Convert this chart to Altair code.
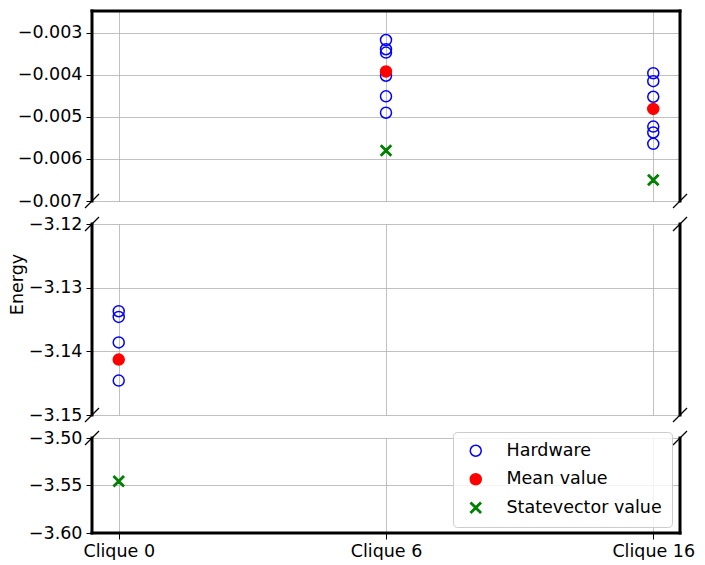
import altair as alt
import pandas as pd

# ---- data ----
cliques = ["Clique 0", "Clique 6", "Clique 16"]
series_names = ["Hardware", "Mean value", "Statevector value"]

hardware_clique0 = [-3.1337, -3.1346, -3.1386, -3.1446]
hardware_clique6 = [-0.00317, -0.00339, -0.00347, -0.00402, -0.00451, -0.00490]
hardware_clique16 = [-0.00396, -0.00415, -0.00452, -0.00523, -0.00537, -0.00564]
mean_values = [-3.1413, -0.00392, -0.00481]
statevector_values = [-3.5455, -0.00580, -0.00650]

top_ticks = [-0.007, -0.006, -0.005, -0.004, -0.003]
mid_ticks = [-3.15, -3.14, -3.13, -3.12]
bot_ticks = [-3.60, -3.55, -3.50]

top_domain = [-0.007, -0.00248]
mid_domain = [-3.15, -3.12]
bot_domain = [-3.60, -3.50]

# ---- build the table ----
rows = []
for c, vals in zip(cliques, [hardware_clique0, hardware_clique6, hardware_clique16]):
    for v in vals:
        rows.append({"clique": c, "energy": v, "series": "Hardware"})
for c, v in zip(cliques, mean_values):
    rows.append({"clique": c, "energy": v, "series": "Mean value"})
for c, v in zip(cliques, statevector_values):
    rows.append({"clique": c, "energy": v, "series": "Statevector value"})
df = pd.DataFrame(rows)

W = 588
FONT = "DejaVu Sans"
FS = 17.5
# filled "x" marker outline (unit square coordinates)
a = 0.17
m = 0.95
XPATH = (f"M{-m + a},{-m}L0,{-a}L{m - a},{-m}L{m},{-m + a}L{a},0L{m},{m - a}"
         f"L{m - a},{m}L0,{a}L{-m + a},{m}L{-m},{m - a}L{-a},0L{-m},{-m + a}Z")
one = pd.DataFrame({"k": [0]})


def panel(domain, ticks, fmt, height, top_break, bottom_break, bottom_axis, legend, title):
    sub = df[(df["energy"] >= domain[0]) & (df["energy"] <= domain[1])]
    if bottom_axis:
        xaxis = alt.Axis(title=None, labels=True, ticks=True, grid=True, domain=False,
                         labelAngle=0, labelPadding=3, tickSize=6)
    else:
        xaxis = alt.Axis(title=None, labels=False, ticks=False, grid=True, domain=False)
    yaxis_kwargs = dict(values=ticks, format=fmt, grid=True, domain=False,
                        labelPadding=4, tickSize=6, labelOverlap=False)
    if title:
        yaxis = alt.Axis(title=title, titlePadding=2, titleY=60, **yaxis_kwargs)
    else:
        yaxis = alt.Axis(title=None, **yaxis_kwargs)

    if legend:
        leg = alt.Legend(title=None, orient="none", legendX=361, legendY=-6,
                         padding=10, symbolOffset=4, labelOffset=22, rowPadding=9.5,
                         labelFontSize=FS, labelFont=FONT, labelColor="black",
                         symbolSize=121, symbolStrokeWidth=1.5,
                         fillColor="rgba(255,255,255,0.8)", strokeColor="#cccccc",
                         cornerRadius=4)
    else:
        leg = None

    pts = alt.Chart(sub).mark_point(size=121, strokeWidth=1.5, opacity=1, filled=False).encode(
        x=alt.X("clique:N", sort=cliques,
                scale=alt.Scale(type="point", domain=cliques, padding=0.1), axis=xaxis),
        y=alt.Y("energy:Q", scale=alt.Scale(domain=domain, nice=False, zero=False), axis=yaxis),
        shape=alt.Shape("series:N", scale=alt.Scale(domain=series_names,
                                                    range=["circle", "circle", XPATH]), legend=leg),
        fill=alt.Fill("series:N", scale=alt.Scale(domain=series_names,
                                                  range=["transparent", "red", "green"]), legend=leg),
        stroke=alt.Stroke("series:N", scale=alt.Scale(domain=series_names,
                                                      range=["blue", "red", "green"]), legend=leg),
    )

    layers = [pts]
    spine = dict(color="black", strokeWidth=3, strokeCap="square")
    layers.append(alt.Chart(one).mark_rule(**spine).encode(
        x=alt.value(0), y=alt.value(0), y2=alt.value(height)))
    layers.append(alt.Chart(one).mark_rule(**spine).encode(
        x=alt.value(W), y=alt.value(0), y2=alt.value(height)))
    if not top_break:
        layers.append(alt.Chart(one).mark_rule(**spine).encode(
            x=alt.value(0), x2=alt.value(W), y=alt.value(0)))
    if not bottom_break:
        layers.append(alt.Chart(one).mark_rule(**spine).encode(
            x=alt.value(0), x2=alt.value(W), y=alt.value(height)))
    d = 7
    brk = dict(color="black", strokeWidth=1.3)
    for flag, cy in [(top_break, 0), (bottom_break, height)]:
        if flag:
            for cx in [0, W]:
                layers.append(alt.Chart(one).mark_rule(**brk).encode(
                    x=alt.value(cx - d), x2=alt.value(cx + d),
                    y=alt.value(cy + d), y2=alt.value(cy - d)))
    return alt.layer(*layers).properties(width=W, height=height)


top = panel(top_domain, top_ticks, ".3f", 190, False, True, False, False, None)
mid = panel(mid_domain, mid_ticks, ".2f", 191, True, True, False, False, "Energy")
bot = panel(bot_domain, bot_ticks, ".2f", 95, True, False, True, True, None)

chart = alt.vconcat(top, mid, bot, spacing=23, bounds="flush").resolve_scale(
    x="independent", y="independent", shape="independent", fill="independent",
    stroke="independent"
).properties(
    padding={"left": 0, "top": 0, "right": 0, "bottom": 0}
).configure_view(
    stroke=None
).configure_axis(
    labelFont=FONT, labelFontSize=FS, labelColor="black",
    tickColor="black", tickWidth=1,
    gridColor="#b0b0b0", gridWidth=0.8,
    titleFont=FONT, titleFontSize=FS, titleFontWeight="normal", titleColor="black",
)

chart.save("out.html", embed_options={"renderer": "svg", "actions": False})
